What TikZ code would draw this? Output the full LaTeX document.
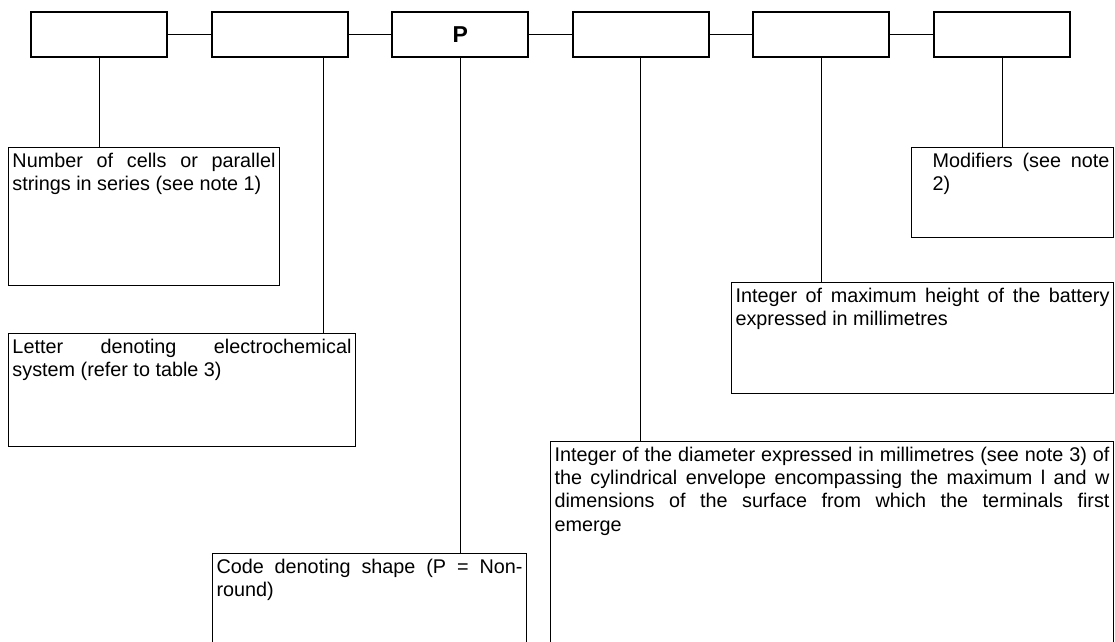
\documentclass[tikz,border=0pt]{standalone}
\usepackage{fontspec}
\setmainfont{Liberation Sans}
\usetikzlibrary{positioning}
\hyphenpenalty=10000
\tolerance=9999

\begin{document}
\begin{tikzpicture}[x=1pt, y=-1pt, node distance=42.6pt,
    field/.style={rectangle, draw, line width=2pt, minimum width=136pt, minimum height=45pt, inner sep=0pt},
    note/.style={rectangle, draw, line width=1pt, anchor=north west, align=justify,
        inner xsep=4pt, inner ysep=4pt, text height=15.5pt, font=\fontsize{19.8}{23.4}\selectfont},
    link/.style={line width=1pt}]
    \useasboundingbox (0,0) rectangle (1115,641);
    \clip (0,0) rectangle (1115,641);
    \fill[white] (0,0) rectangle (1115,641);

    \node[field] (f1) at (99,34.5) {};
    \node[field, right=of f1] (f2) {};
    \node[field, right=of f2, font=\fontsize{23}{27}\selectfont\bfseries] (f3) {P};
    \node[field, right=of f3] (f4) {};
    \node[field, right=of f4] (f5) {};
    \node[field, right=of f5] (f6) {};

    \node[note, text width=263pt, text depth=114.5pt] (num) at (8,147) {Number of cells or parallel strings in series (see note 1)};
    \node[note, text width=339pt, text depth=89.5pt] (letr) at (8,333) {Letter denoting electrochemical\linebreak system (refer to table 3)};
    \node[note, text width=306pt, text depth=86.5pt] (code) at (212,553) {Code denoting shape (P = Non-round)};
    \node[note, text width=555pt, text depth=196.5pt] (diam) at (550,441) {Integer of the diameter expressed in millimetres (see note 3) of\linebreak
        the cylindrical envelope encompassing the maximum l and w\linebreak
        dimensions of the surface from which the terminals first\linebreak emerge};
    \node[note, text width=374pt, text depth=87.5pt] (maxh) at (731,282) {Integer of maximum height of the battery expressed in millimetres};
    \node[note, text width=194pt, text depth=66.5pt] (mods) at (911,147) {\hspace*{17pt}\parbox[t]{177pt}{Modifiers (see note 2)}};

    \draw[link] (f1) -- (f2);
    \draw[link] (f2) -- (f3);
    \draw[link] (f3) -- (f4);
    \draw[link] (f4) -- (f5);
    \draw[link] (f5) -- (f6);

    \draw[link] (f1.south) -- (f1.south |- num.north);
    \draw[link] ([xshift=44pt]f2.south) -- ([xshift=44pt]f2.south |- letr.north);
    \draw[link] (f3.south) -- (f3.south |- code.north);
    \draw[link] (f4.south) -- (f4.south |- diam.north);
    \draw[link] (f5.south) -- (f5.south |- maxh.north);
    \draw[link] (f6.south) -- (f6.south |- mods.north);
\end{tikzpicture}
\end{document}
